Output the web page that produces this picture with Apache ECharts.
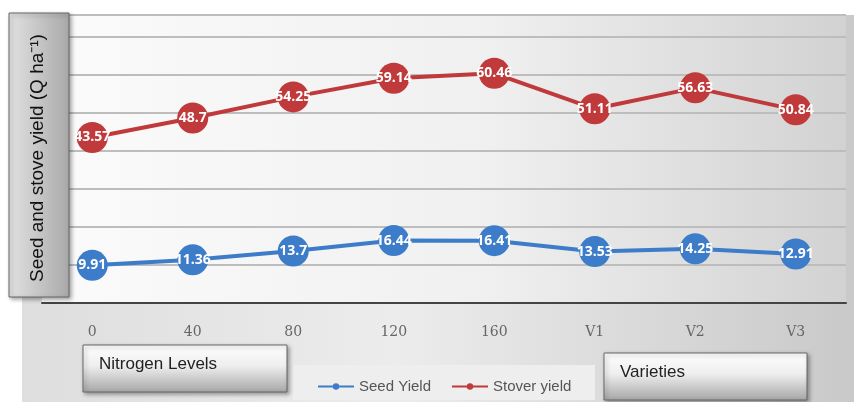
<!DOCTYPE html>
<html>
<head>
<meta charset="utf-8">
<script src="https://cdn.jsdelivr.net/npm/echarts@6/dist/echarts.min.js"></script>
<style>
  html, body { margin: 0; padding: 0; background: #fff; }
  #chart { width: 854px; height: 402px; }
</style>
</head>
<body>
<div id="chart"></div>
<script>
var categories = ['0', '40', '80', '120', '160', 'V1', 'V2', 'V3'];
var seedYield = [9.91, 11.36, 13.7, 16.44, 16.41, 13.53, 14.25, 12.91];
var stoverYield = [43.57, 48.7, 54.25, 59.14, 60.46, 51.11, 56.63, 50.84];

var chart = echarts.init(document.getElementById('chart'), null, {renderer: 'canvas'});

function hGrad(stops) {
    return new echarts.graphic.LinearGradient(0, 0, 1, 0, stops);
}
function vGrad(stops) {
    return new echarts.graphic.LinearGradient(0, 0, 0, 1, stops);
}

// gray boxes with a caption, like the ones under the axis
function labelBox(x, y, w, h, text) {
    return [{
        type: 'rect',
        z: 50,
        shape: {x: x, y: y, width: w, height: h},
        style: {
            fill: vGrad([{offset: 0, color: '#ffffff'}, {offset: 0.45, color: '#eeeeee'}, {offset: 1, color: '#a6a6a6'}]),
            stroke: '#666',
            lineWidth: 1,
            shadowBlur: 4,
            shadowOffsetX: 2,
            shadowOffsetY: 2,
            shadowColor: 'rgba(0,0,0,0.35)'
        }
    }, {
        type: 'text',
        z: 51,
        x: x + 16, y: y + 11,
        style: {text: text, font: '17px "Liberation Sans", Arial, sans-serif', fill: '#222'}
    }];
}

var labelStyle = {
    show: true,
    position: 'inside',
    color: '#fff',
    fontWeight: 'bold',
    fontSize: 14,
    fontFamily: '"Open Sans", "Noto Sans", sans-serif',
    formatter: function (p) { return p.value; }
};

chart.setOption({
    animation: false,
    grid: {left: 42, right: 8, top: 15, bottom: 99},
    graphic: [
        {
            type: 'rect', z: -10, silent: true,
            shape: {x: 22, y: 15, width: 832, height: 387},
            style: {fill: hGrad([{offset: 0, color: '#dedede'}, {offset: 0.45, color: '#ececec'}, {offset: 1, color: '#c9c9c9'}])}
        },
        {
            type: 'rect', z: -9, silent: true,
            shape: {x: 42, y: 15, width: 804, height: 288},
            style: {fill: hGrad([{offset: 0, color: '#fbfbfb'}, {offset: 0.55, color: '#f0f0f0'}, {offset: 1, color: '#d2d2d2'}])}
        },
        {
            type: 'rect', z: -8, silent: true,
            shape: {x: 293, y: 365, width: 302, height: 35},
            style: {fill: '#eeeeee'}
        },
        {
            type: 'rect', z: 50,
            shape: {x: 9, y: 13, width: 60, height: 284},
            style: {
                fill: hGrad([{offset: 0, color: '#e2e2e2'}, {offset: 1, color: '#a9a9a9'}]),
                stroke: '#666', lineWidth: 1,
                shadowBlur: 4, shadowOffsetX: 2, shadowOffsetY: 2, shadowColor: 'rgba(0,0,0,0.35)'
            }
        },
        {
            type: 'text', z: 51,
            x: 38, y: 158, rotation: Math.PI / 2,
            style: {
                text: 'Seed and stove yield (Q ha\u207B\u00B9)',
                font: '19px "Liberation Sans", Arial, sans-serif',
                fill: '#111', textAlign: 'center', textVerticalAlign: 'middle'
            }
        }
    ].concat(labelBox(83, 345, 204, 47, 'Nitrogen Levels'), labelBox(604, 353, 203, 47, 'Varieties')),
    legend: {
        left: 312, top: 374,
        itemWidth: 36, itemHeight: 8, itemGap: 20,
        textStyle: {color: '#555', fontSize: 15, fontFamily: '"Liberation Sans Narrow", "Arial Narrow", sans-serif'},
        data: ['Seed Yield', 'Stover yield']
    },
    xAxis: {
        type: 'category',
        data: categories,
        boundaryGap: true,
        axisLine: {lineStyle: {color: '#444', width: 2}},
        axisTick: {show: false},
        axisLabel: {
            margin: 22, color: '#666', fontSize: 14,
            fontFamily: '"DejaVu Serif", "Liberation Serif", serif'
        }
    },
    yAxis: {
        type: 'value',
        min: 0, max: 75.8, interval: 10,
        axisLine: {show: false},
        axisTick: {show: false},
        axisLabel: {show: false},
        splitLine: {lineStyle: {color: '#bdbdbd', width: 2}}
    },
    series: [
        {
            name: 'Seed Yield',
            type: 'line',
            data: seedYield,
            color: '#3d7cc8',
            symbol: 'circle',
            symbolSize: 31,
            lineStyle: {width: 4, color: '#3d7cc8'},
            itemStyle: {color: '#3d7cc8'},
            label: labelStyle
        },
        {
            name: 'Stover yield',
            type: 'line',
            data: stoverYield,
            color: '#c0393b',
            symbol: 'circle',
            symbolSize: 31,
            lineStyle: {width: 4, color: '#c0393b'},
            itemStyle: {color: '#c0393b'},
            label: labelStyle
        }
    ]
});
</script>
</body>
</html>
